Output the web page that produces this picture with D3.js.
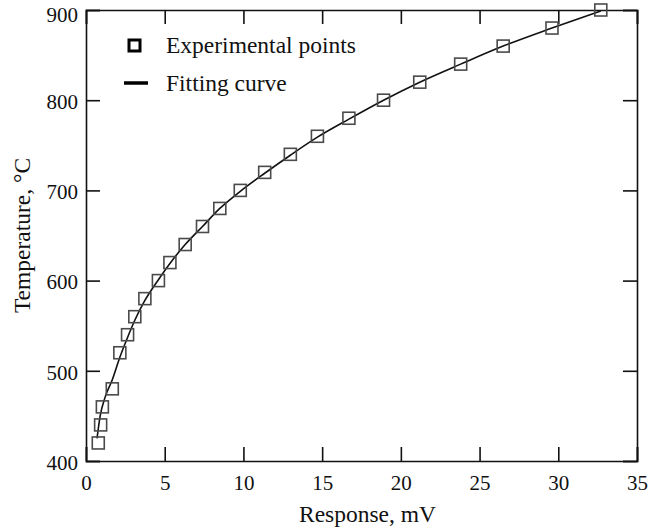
<!DOCTYPE html>
<html>
<head>
<meta charset="utf-8">
<script src="https://cdn.jsdelivr.net/npm/d3@7"></script>
<style>
  body { margin: 0; background: #fff; }
  svg text { font-family: "Liberation Serif", "Times New Roman", serif; fill: #111; }
</style>
</head>
<body>
<div id="chart"></div>
<script>
// experimental points
const responseMV = [0.78, 0.93, 1.04, 1.67, 2.15, 2.64, 3.1, 3.74, 4.6, 5.33, 6.3, 7.4,
    8.5, 9.8, 11.35, 12.98, 14.7, 16.7, 18.9, 21.2, 23.8, 26.5, 29.6, 32.7];
const temperatureC = [420, 440, 460, 480, 520, 540, 560, 580, 600, 620, 640, 660,
    680, 700, 720, 740, 760, 780, 800, 820, 840, 860, 880, 900];

// fitting curve
const fitX = [0.7, 0.9, 1.2, 1.67, 2.15, 2.64, 3.1, 3.74, 4.6, 5.33, 6.3, 7.4,
    8.5, 9.8, 11.35, 12.98, 14.7, 16.7, 18.9, 21.2, 23.8, 26.5, 29.6, 32.7];
const fitY = [425, 450, 470, 490, 515, 537, 556, 578, 601, 619, 640, 660,
    680, 699, 719, 739, 759, 779, 800, 820, 840, 860, 880, 899];

const xTicks = [0, 5, 10, 15, 20, 25, 30, 35];
const yTicks = [400, 500, 600, 700, 800, 900];

const W = 668, H = 530;
const margin = {top: 10, right: 31, bottom: 69, left: 86};
const width = W - margin.left - margin.right,
    height = H - margin.top - margin.bottom;

const svg = d3.select("#chart").append("svg")
    .attr("width", W)
    .attr("height", H);
const g = svg.append("g")
    .attr("transform", `translate(${margin.left},${margin.top})`);

const x = d3.scaleLinear().domain([0, 35]).range([0, width]);
const y = d3.scaleLinear().domain([400, 900]).range([height, 0]);

const tickLen = 14;

// bottom axis, ticks inside
const xAxis = g.append("g")
    .attr("transform", `translate(0,${height})`)
    .call(d3.axisBottom(x).tickValues(xTicks).tickSize(-tickLen).tickPadding(14).tickFormat(d3.format("d")));
xAxis.selectAll("text").style("font-size", "21px");

// top axis, no labels
g.append("g")
    .call(d3.axisTop(x).tickValues(xTicks).tickSize(-tickLen).tickFormat(""));

// left axis
const yAxis = g.append("g")
    .call(d3.axisLeft(y).tickValues(yTicks).tickSize(-tickLen).tickPadding(8).tickFormat(d3.format("d")));
yAxis.selectAll("text")
    .style("font-size", "21px")
    .attr("y", d => d === 900 ? 5 : 1.5); // top label sits a bit lower in the original

// right axis
g.append("g")
    .attr("transform", `translate(${width},0)`)
    .call(d3.axisRight(y).tickValues(yTicks).tickSize(-tickLen).tickFormat(""));

g.selectAll(".domain").attr("stroke", "#111").attr("stroke-width", 1.6);
g.selectAll(".tick line").attr("stroke", "#111").attr("stroke-width", 1.6);

// fitting curve
const fitData = fitX.map((v, i) => [v, fitY[i]]);
g.append("path")
    .datum(fitData)
    .attr("fill", "none")
    .attr("stroke", "#111")
    .attr("stroke-width", 1.6)
    .attr("d", d3.line().curve(d3.curveMonotoneX).x(d => x(d[0])).y(d => y(d[1])));

// experimental points
const sq = 12;
g.selectAll(".pt")
    .data(responseMV.map((v, i) => [v, temperatureC[i]]))
    .enter().append("rect")
    .attr("class", "pt")
    .attr("x", d => x(d[0]) - sq / 2)
    .attr("y", d => y(d[1]) - sq / 2)
    .attr("width", sq)
    .attr("height", sq)
    .attr("fill", "none")
    .attr("stroke", "#4a4a4a")
    .attr("stroke-width", 1.6);

// legend
const legend = g.append("g").attr("transform", "translate(37,0)");
legend.append("rect")
    .attr("x", 6).attr("y", 30)
    .attr("width", 11).attr("height", 11)
    .attr("fill", "none")
    .attr("stroke", "#000")
    .attr("stroke-width", 3);
legend.append("text")
    .attr("x", 43).attr("y", 43)
    .style("font-size", "23.5px")
    .text("Experimental points");
legend.append("line")
    .attr("x1", 1).attr("x2", 25)
    .attr("y1", 73).attr("y2", 73)
    .attr("stroke", "#000")
    .attr("stroke-width", 3.5);
legend.append("text")
    .attr("x", 43).attr("y", 81)
    .style("font-size", "23.5px")
    .text("Fitting curve");

// axis titles
svg.append("text")
    .attr("x", margin.left + width / 2 + 6)
    .attr("y", 522)
    .attr("text-anchor", "middle")
    .style("font-size", "23.5px")
    .text("Response, mV");

svg.append("text")
    .attr("transform", `translate(30,${margin.top + height / 2}) rotate(-90)`)
    .attr("text-anchor", "middle")
    .style("font-size", "23.5px")
    .text("Temperature, °C");
</script>
</body>
</html>
